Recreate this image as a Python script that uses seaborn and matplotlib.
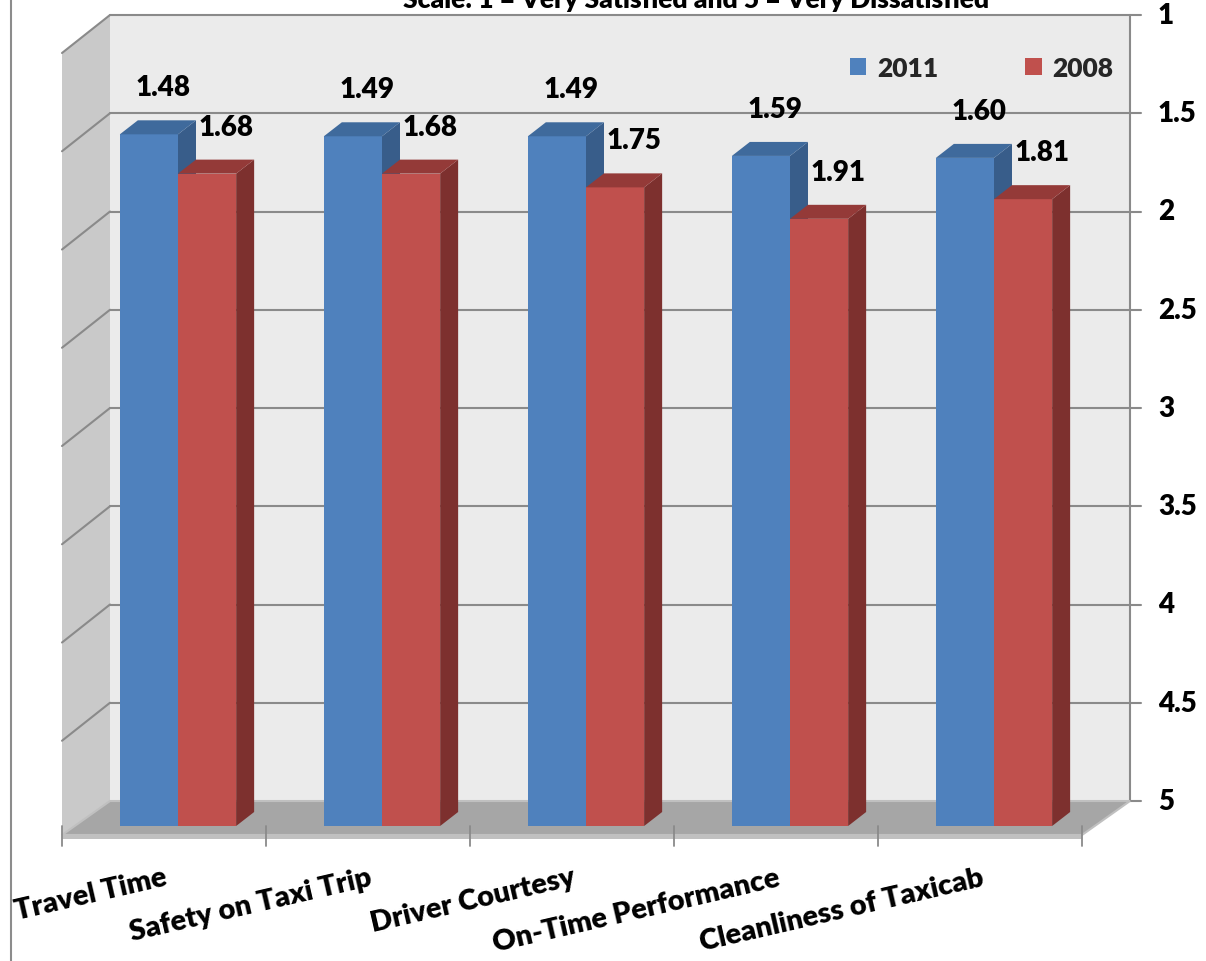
import matplotlib
matplotlib.use("Agg")
import matplotlib.pyplot as plt
from matplotlib.patches import Polygon
from matplotlib.lines import Line2D
import pandas as pd
import seaborn as sns

# ---- data -------------------------------------------------------------
categories = ["Travel Time", "Safety on Taxi Trip", "Driver Courtesy",
              "On-Time Performance", "Cleanliness of Taxicab"]
scores_2011 = [1.48, 1.49, 1.49, 1.59, 1.60]
scores_2008 = [1.68, 1.68, 1.75, 1.91, 1.81]
years = ["2011", "2008"]
scale_ticks = [1, 1.5, 2, 2.5, 3, 3.5, 4, 4.5, 5]
title = "Scale: 1 = Very Satisfied and 5 = Very Dissatisfied"

SCALE_BEST, SCALE_WORST = 1, 5

df = pd.DataFrame({
    "measure": categories * 2,
    "year": [years[0]] * len(categories) + [years[1]] * len(categories),
    "score": scores_2011 + scores_2008,
})
# bars rise from the "very dissatisfied" floor toward "very satisfied"
df["rise"] = SCALE_WORST - df["score"]

# ---- style ------------------------------------------------------------
BLUE, BLUE_SIDE, BLUE_TOP = "#4F81BD", "#385D8A", "#3F6A9C"
RED, RED_SIDE, RED_TOP = "#C0504D", "#7D302E", "#943A38"
BACK_WALL, SIDE_WALL, FLOOR, FLOOR_EDGE = "#EBEBEB", "#C9C9C9", "#A6A6A6", "#C0C0C0"
GRID = "#8A8A8A"
WEIGHT = "heavy"

sns.set_theme(style="white")
plt.rcParams["font.family"] = ["Lato", "DejaVu Sans"]

W_PX, H_PX = 1206, 962
fig = plt.figure(figsize=(W_PX / 100, H_PX / 100), dpi=100)
ax = fig.add_axes([0, 0, 1, 1])

# pixel scale of the plotting plane
PX_X, PX_Y = 204.0, 196.5
ORIGIN_X, ORIGIN_Y = 178.0, 827.0

sns.barplot(data=df, x="measure", y="rise", hue="year", order=categories,
            hue_order=years, palette={years[0]: BLUE, years[1]: RED},
            width=0.57, saturation=1, linewidth=0, edgecolor="none",
            errorbar=None, ax=ax, zorder=3)

ax.set_xlim(-ORIGIN_X / PX_X, (W_PX - ORIGIN_X) / PX_X)
ax.set_ylim(-(H_PX - ORIGIN_Y) / PX_Y, ORIGIN_Y / PX_Y)
ax.axis("off")

n = len(categories)

# ---- 3-D box frame ------------------------------------------------------
FLOOR_Y = -9 / PX_Y                 # front edge of the floor
EDGE_Y = -13 / PX_Y                 # lower rim of the floor slab
FLOOR_X0 = -0.5 - 14 / PX_X         # front-left corner of the floor
DEPTH_X, DEPTH_Y = 48 / PX_X, 34 / PX_Y
WALL_DROP = 38 / PX_Y               # left wall front edge sits lower

xb0 = FLOOR_X0 + DEPTH_X
xb1 = FLOOR_X0 + n + DEPTH_X


def back_y(v):
    return (SCALE_WORST - v) + FLOOR_Y + DEPTH_Y


ax.add_patch(Polygon([(xb0, back_y(SCALE_WORST)), (xb1, back_y(SCALE_WORST)),
                      (xb1, back_y(SCALE_BEST)), (xb0, back_y(SCALE_BEST))],
                     closed=True, fc=BACK_WALL, ec="none", zorder=0))
ax.add_patch(Polygon([(FLOOR_X0, FLOOR_Y), (xb0, back_y(SCALE_WORST)),
                      (xb0, back_y(SCALE_BEST)),
                      (FLOOR_X0, back_y(SCALE_BEST) - WALL_DROP)],
                     closed=True, fc=SIDE_WALL, ec="none", zorder=0))
# slab rim along the front of the floor
ax.add_patch(Polygon([(FLOOR_X0, EDGE_Y), (FLOOR_X0 + n, EDGE_Y),
                      (FLOOR_X0 + n, FLOOR_Y), (FLOOR_X0, FLOOR_Y)],
                     closed=True, fc=FLOOR_EDGE, ec="none", zorder=0.5))
ax.add_patch(Polygon([(FLOOR_X0, FLOOR_Y), (FLOOR_X0 + n, FLOOR_Y),
                      (xb1, back_y(SCALE_WORST)), (xb0, back_y(SCALE_WORST))],
                     closed=True, fc=FLOOR, ec=FLOOR_EDGE, lw=1.5, zorder=1))

for t in scale_ticks:
    yb = back_y(t)
    if t != SCALE_WORST:
        ax.plot([xb0, xb1], [yb, yb], color=GRID, lw=1.5, zorder=0.8)
        ax.plot([FLOOR_X0, xb0], [yb - WALL_DROP, yb], color=GRID, lw=1.5,
                zorder=0.8)
    ax.plot([xb1, xb1 + 11 / PX_X], [yb, yb], color=GRID, lw=1.5, zorder=0.8)
    ax.text(xb1 + 28 / PX_X, yb, f"{t:g}", ha="left", va="center",
            fontsize=20, fontweight=WEIGHT, color="black")

ax.plot([xb1, xb1], [back_y(SCALE_WORST), back_y(SCALE_BEST)], color=GRID,
        lw=1.5, zorder=0.8)

# category separators below the floor
for k in range(n + 1):
    ax.plot([FLOOR_X0 + k, FLOOR_X0 + k], [0, -20 / PX_Y], color=GRID,
            lw=1.3, zorder=1.2)

# ---- bar depth faces and value labels ---------------------------------
BAR_DX, BAR_DY = 18 / PX_X, 14 / PX_Y
faces = {years[0]: (BLUE_SIDE, BLUE_TOP, 3, 14 / PX_X, 47 / PX_Y),
         years[1]: (RED_SIDE, RED_TOP, 4, 19 / PX_X, 47 / PX_Y)}

for year, container in zip(years, ax.containers):
    side_c, top_c, z, lab_dx, lab_dy = faces[year]
    vals = df.loc[df["year"] == year, "score"].tolist()
    for bar, val in zip(container.patches, vals):
        bar.set_zorder(z)
        x0, w, h = bar.get_x(), bar.get_width(), bar.get_height()
        x1 = x0 + w
        ax.add_patch(Polygon([(x1, 0), (x1 + BAR_DX, BAR_DY),
                              (x1 + BAR_DX, h + BAR_DY), (x1, h)],
                             closed=True, fc=side_c, ec="none", zorder=z))
        ax.add_patch(Polygon([(x0, h), (x0 + BAR_DX, h + BAR_DY),
                              (x1 + BAR_DX, h + BAR_DY), (x1, h)],
                             closed=True, fc=top_c, ec="none", zorder=z))
        ax.text(x0 + w / 2 + lab_dx, h + lab_dy, f"{val:.2f}", ha="center",
                va="center", fontsize=20, fontweight=WEIGHT, color="black",
                zorder=6)

# ---- category labels --------------------------------------------------
for k, cat in enumerate(categories):
    ax.text(FLOOR_X0 + k + 0.5, -38 / PX_Y, cat, rotation=13,
            rotation_mode="anchor", ha="right", va="top", fontsize=21,
            fontweight=WEIGHT, color="black")

# ---- legend -----------------------------------------------------------
sns.move_legend(ax, "center left", bbox_to_anchor=(850 / W_PX, 1 - 69 / H_PX),
                bbox_transform=fig.transFigure, ncol=2, frameon=False,
                title=None, prop={"weight": WEIGHT, "size": 19},
                handlelength=0.62, handleheight=0.62, handletextpad=0.4,
                columnspacing=3.3, borderpad=0, borderaxespad=0)

# ---- title (clipped at the top edge) and frame line -------------------
fig.text(696 / W_PX, 1 - 8 / H_PX, title, ha="center", va="baseline",
         fontsize=19, fontweight=WEIGHT, color="black")
fig.add_artist(Line2D([11 / W_PX, 11 / W_PX], [0, 1],
                      transform=fig.transFigure, color="#8C8C8C", lw=1.5))

fig.savefig("out.png", dpi=100, facecolor="white")
